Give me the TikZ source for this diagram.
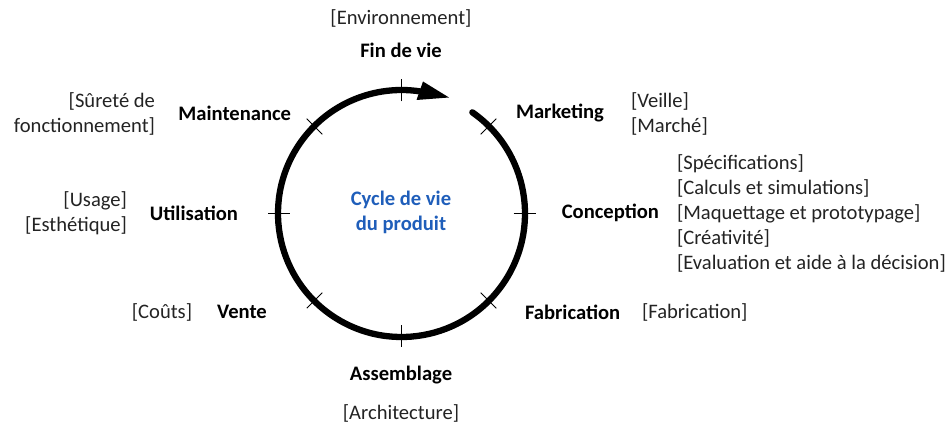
\documentclass[tikz,border=0pt]{standalone}
\usepackage{fontspec}
\setmainfont{Carlito}
\usetikzlibrary{calc}
\definecolor{cycleblue}{RGB}{31,94,186}
\definecolor{notegray}{RGB}{35,35,35}
\begin{document}
\begin{tikzpicture}[x=1pt,y=-1pt,
  every node/.style={inner sep=0pt,outer sep=0pt,font=\fontsize{20.6}{25}\selectfont},
  phase/.style={font=\fontsize{20.6}{25}\selectfont\bfseries,text=black},
  note/.style={text=notegray},
  tick/.style={line width=1pt,black}]
\useasboundingbox (0,0) rectangle (950,427);
\coordinate (c) at (401.5,213.5);
% ticks
\foreach \a in {0,45,...,315}
  \draw[tick] ($(c)+(\a:112)$) -- ($(c)+(\a:134)$);
% cycle arc
\draw[line width=6.3pt,line cap=round] ($(c)+(-55:123.5)$) arc[start angle=-55,end angle=279,radius=123.5];
\coordinate (b1) at (423,81.5);
\coordinate (b2) at (416.5,100);
\coordinate (tip) at (449,97.5);
\fill (b1) -- (tip) -- (b2) -- cycle;
% labels
\node[note] (env) at (401,18) {[Environnement]};
\node[phase] (fin) at (401,50) {Fin de vie};
\node[phase,anchor=east] (maint) at (291,113) {Maintenance};
\node[note,anchor=east,align=right] (surete) at (155,113.5) {[Sûreté de\\fonctionnement]};
\node[phase,anchor=west] (mkt) at (516,113) {Marketing};
\node[note,anchor=west,align=left] (veille) at (631,114) {[Veille]\\{[Marché]}};
\node[phase,anchor=east] (conc) at (659,213) {Conception};
\node[note,anchor=west,align=left] (list) at (677,213.5) {[Spécifications]\\{[Calculs et simulations]}\\{[Maquettage et prototypage]}\\{[Créativité]}\\{[Evaluation et aide à la décision]}};
\node[phase,anchor=west] (fab) at (525,312) {Fabrication};
\node[note,anchor=west] (fabn) at (642,312) {[Fabrication]};
\node[phase] (assem) at (401,375) {Assemblage};
\node[note] (archi) at (401,413) {[Architecture]};
\node[phase] (vente) at (242,312) {Vente};
\node[note] (couts) at (162,312) {[Coûts]};
\node[phase] (util) at (194,213) {Utilisation};
\node[note,anchor=east,align=right] (usage) at (127,213.5) {[Usage]\\{[Esthétique]}};
\node[font=\fontsize{20.6}{25}\selectfont\bfseries,text=cycleblue,align=center] (cyc) at (401,212) {Cycle de vie\\du produit};
\end{tikzpicture}
\end{document}
